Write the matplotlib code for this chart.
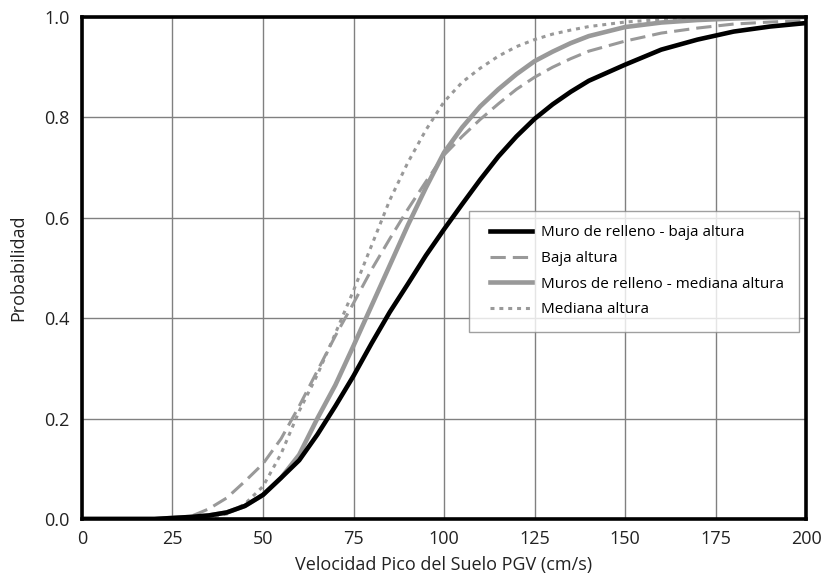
import matplotlib
matplotlib.use("Agg")
import matplotlib.pyplot as plt
from matplotlib.legend_handler import HandlerLine2D
from matplotlib.lines import Line2D

pgv = [0, 20, 25, 30, 35, 40, 45, 50, 55, 60, 65, 70, 75, 80, 85, 90, 95, 100,
       105, 110, 115, 120, 125, 130, 135, 140, 150, 160, 170, 180, 190, 200]

muro_baja = [0, 0, 0.002, 0.004, 0.007, 0.013, 0.026, 0.048, 0.082, 0.117, 0.168,
             0.225, 0.285, 0.35, 0.412, 0.468, 0.525, 0.577, 0.627, 0.676, 0.722,
             0.762, 0.797, 0.826, 0.851, 0.873, 0.905, 0.935, 0.955, 0.971, 0.981,
             0.988]

baja = [0, 0, 0.0, 0.005, 0.02, 0.042, 0.075, 0.11, 0.16, 0.225, 0.295, 0.365,
        0.43, 0.497, 0.558, 0.617, 0.672, 0.725, 0.762, 0.796, 0.827, 0.856, 0.88,
        0.9, 0.917, 0.932, 0.952, 0.968, 0.978, 0.986, 0.99, 0.993]

muros_mediana = [0, 0, 0.002, 0.004, 0.007, 0.013, 0.026, 0.048, 0.082, 0.128,
                 0.2, 0.267, 0.345, 0.425, 0.505, 0.585, 0.66, 0.73, 0.78, 0.822,
                 0.856, 0.886, 0.912, 0.931, 0.948, 0.962, 0.98, 0.989, 0.994,
                 0.997, 0.999, 1.0]

mediana = [0, 0, 0, 0.0, 0.003, 0.01, 0.03, 0.065, 0.13, 0.215, 0.287, 0.37,
           0.455, 0.545, 0.635, 0.71, 0.775, 0.831, 0.87, 0.898, 0.922, 0.941,
           0.955, 0.966, 0.974, 0.981, 0.99, 0.995, 0.998, 1.0, 1.0, 1.0]

labels = ["Muro de relleno - baja altura", "Baja altura",
          "Muros de relleno - mediana altura", "Mediana altura"]

xticks = [0, 25, 50, 75, 100, 125, 150, 175, 200]
yticks = [0.0, 0.2, 0.4, 0.6, 0.8, 1.0]

plt.rcParams['font.family'] = ['Open Sans', 'DejaVu Sans']

fig = plt.figure(figsize=(8.24, 5.83), dpi=100)
ax = fig.add_axes([0.0995, 0.1098, 0.8787, 0.861])

gray = "#999999"
ax.plot(pgv, muro_baja, color="black", lw=3.3, label=labels[0], zorder=5)
ax.plot(pgv, baja, color=gray, lw=2.2, dashes=(5, 2.3), label=labels[1], zorder=3)
ax.plot(pgv, muros_mediana, color=gray, lw=3.3, label=labels[2], zorder=4)
ax.plot(pgv, mediana, color=gray, lw=2.2, dashes=(1.3, 1.6), label=labels[3], zorder=3)

ax.set_xlim(0, 200)
ax.set_ylim(0, 1.0)
ax.set_xticks(xticks)
ax.set_yticks(yticks)
ax.set_xticklabels([str(t) for t in xticks])
ax.set_yticklabels([f"{t:.1f}" for t in yticks])
ax.tick_params(length=0, labelsize=13, colors="#222222")
ax.tick_params(axis='x', pad=8)
ax.tick_params(axis='y', pad=9)
ax.grid(True, color="#808080", lw=1.0)
ax.set_axisbelow(True)
for s in ax.spines.values():
    s.set_linewidth(2.6)
    s.set_color("black")
    s.set_zorder(6)

ax.set_xlabel("Velocidad Pico del Suelo PGV (cm/s)", fontsize=13, labelpad=6, color="#222222")
ax.set_ylabel("Probabilidad", fontsize=13, labelpad=12, color="#222222")

hmap = {Line2D: HandlerLine2D(xpad=0.4)}
leg = ax.legend(loc="upper left", bbox_to_anchor=(0.535, 0.614), borderaxespad=0,
                fontsize=11, frameon=True, fancybox=False, handlelength=3.15,
                labelspacing=0.7, borderpad=0.95, handletextpad=0.6,
                handler_map=hmap)
leg.get_frame().set_edgecolor("#888888")
leg.get_frame().set_linewidth(1.0)
leg.set_zorder(7)

fig.savefig("out.png", dpi=100)
